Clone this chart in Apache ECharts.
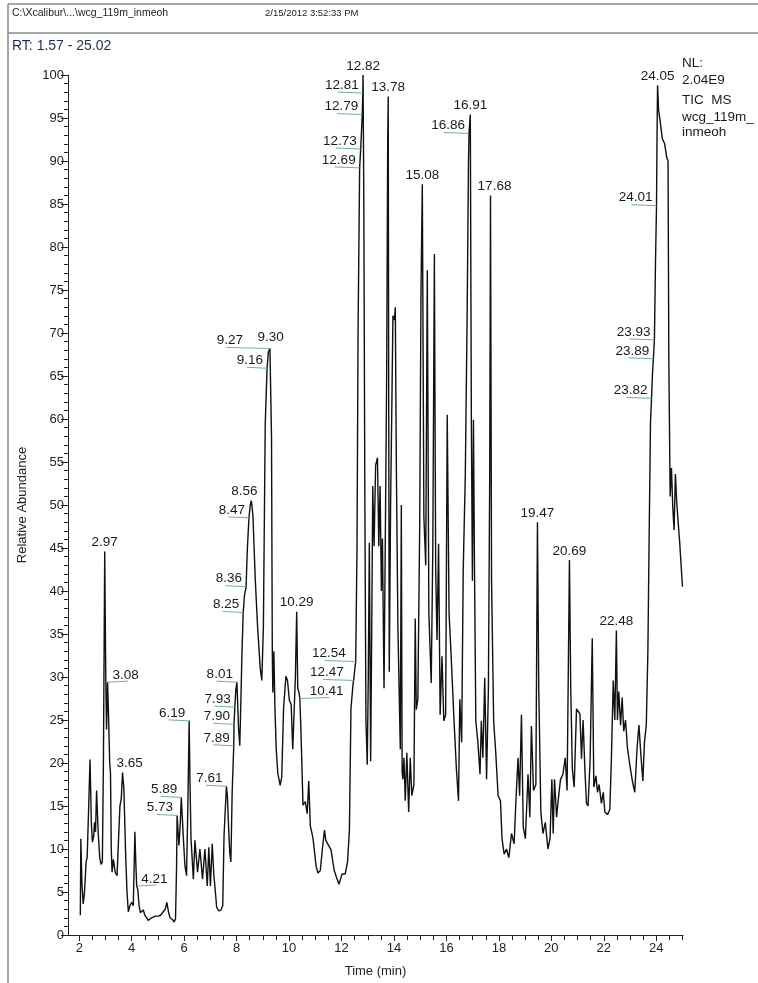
<!DOCTYPE html>
<html><head><meta charset="utf-8">
<script src="https://cdn.jsdelivr.net/npm/echarts@6/dist/echarts.min.js"></script>
<style>html,body{margin:0;padding:0;background:#fff}#c{width:758px;height:983px}</style>
</head><body><div id="c"></div>
<script>
// ---- data ----
const times = [2.04,2.06,2.10,2.15,2.20,2.26,2.30,2.35,2.41,2.46,2.50,2.55,2.58,2.62,2.66,2.72,2.78,2.83,2.88,2.92,2.97,3.01,3.04,3.08,3.12,3.16,3.19,3.22,3.25,3.30,3.37,3.44,3.49,3.55,3.60,3.65,3.70,3.77,3.82,3.87,3.93,4.00,4.06,4.12,4.16,4.19,4.23,4.28,4.33,4.38,4.44,4.50,4.57,4.63,4.70,4.76,4.82,4.90,5.01,5.10,5.20,5.28,5.34,5.40,5.46,5.55,5.62,5.67,5.71,5.73,5.80,5.85,5.89,5.97,6.03,6.09,6.14,6.19,6.22,6.26,6.35,6.41,6.51,6.60,6.70,6.79,6.88,6.94,7.00,7.07,7.13,7.17,7.24,7.32,7.40,7.47,7.52,7.61,7.65,7.70,7.74,7.78,7.83,7.89,7.90,7.93,7.97,8.01,8.04,8.07,8.12,8.16,8.20,8.25,8.30,8.36,8.41,8.47,8.52,8.56,8.62,8.71,8.80,8.90,8.96,9.02,9.09,9.16,9.21,9.27,9.30,9.33,9.36,9.38,9.42,9.46,9.51,9.57,9.66,9.72,9.79,9.88,9.94,10.01,10.08,10.14,10.19,10.24,10.29,10.33,10.38,10.41,10.45,10.53,10.62,10.69,10.75,10.81,10.91,11.03,11.10,11.19,11.27,11.35,11.40,11.46,11.60,11.72,11.82,11.90,11.96,12.02,12.14,12.23,12.30,12.36,12.44,12.47,12.51,12.54,12.59,12.63,12.69,12.73,12.79,12.81,12.82,12.85,12.89,12.93,12.98,13.02,13.06,13.11,13.15,13.19,13.24,13.30,13.37,13.42,13.47,13.52,13.56,13.62,13.68,13.72,13.76,13.78,13.80,13.82,13.87,13.92,13.96,14.02,14.05,14.09,14.15,14.20,14.24,14.28,14.31,14.34,14.38,14.43,14.49,14.56,14.62,14.68,14.76,14.81,14.85,14.91,14.98,15.03,15.08,15.14,15.21,15.27,15.33,15.42,15.48,15.54,15.59,15.64,15.70,15.76,15.83,15.90,15.97,16.03,16.10,16.18,16.29,16.38,16.46,16.51,16.58,16.64,16.72,16.79,16.84,16.86,16.91,16.95,16.99,17.03,17.07,17.12,17.20,17.28,17.33,17.39,17.46,17.53,17.60,17.65,17.68,17.72,17.80,17.88,17.97,18.06,18.12,18.20,18.29,18.38,18.48,18.58,18.65,18.73,18.79,18.86,18.93,19.01,19.11,19.18,19.24,19.32,19.41,19.47,19.52,19.60,19.68,19.77,19.87,19.95,20.02,20.07,20.12,20.20,20.28,20.35,20.44,20.53,20.60,20.69,20.74,20.80,20.87,20.96,21.09,21.15,21.21,21.28,21.34,21.40,21.48,21.56,21.62,21.70,21.76,21.82,21.91,21.98,22.04,22.14,22.23,22.29,22.36,22.42,22.48,22.52,22.57,22.64,22.70,22.76,22.83,22.90,22.99,23.09,23.18,23.27,23.34,23.41,23.49,23.55,23.62,23.68,23.73,23.78,23.82,23.86,23.89,23.93,23.97,24.01,24.03,24.05,24.09,24.15,24.23,24.32,24.40,24.45,24.48,24.53,24.58,24.63,24.68,24.73,24.78,24.84,24.89,24.94,25.00];
const abundance = [2.3,11.2,6,3.6,5,8.5,9,14,20.4,13,10.8,11.5,13.1,12,16.8,12,9,8.2,8.5,20,44.6,30,23.9,29.4,25,20,18.9,10,7.3,8.8,7.3,6.9,6.9,15,15.8,18.9,17,9.2,5,2.7,3.4,3.8,3.4,12,8,5.7,5.3,3.4,2.6,2.7,2.9,2.3,2.0,1.7,1.6,2.0,1.8,2.2,2.2,2.3,2.7,3.0,3.8,2.7,2.0,1.8,1.5,1.9,8,13.9,10.4,13,16,11.2,8,6.9,15,24.9,18,11.2,6.5,11,7.3,10,6.5,10,5.7,10.2,5.7,10.6,7,5.7,3.2,2.8,2.9,3.4,11.6,17.3,16,12,9.5,8.5,16.6,22,24.5,26.5,28.5,29.4,27,24.2,22,27,32.4,37.5,39.5,40.5,45,48.5,50,50.5,48.9,41.4,35.8,31,29.6,35.8,59.3,65.9,67.8,68.2,68.4,58,33,28.2,33,26.4,21.6,18.8,17.4,18.4,26.4,30.1,29.6,27.3,26.8,21.6,21.6,30,37.6,28.7,28.2,27.5,24,15.1,15.5,14.1,17.9,12.7,11.3,8,7.2,7.5,10,12.2,11,10.8,9.9,7.5,6.6,5.9,6.5,7.1,7.1,8.5,12.2,26.4,29.2,29.8,31,31.8,45,70,89.2,91.4,95.4,97.9,100,85,50,25,19.8,30,45.6,20.2,35,52.2,45.2,54.6,55.5,45.2,52.2,40,46.1,28.7,49.9,65,92,97.5,60,30.6,49.9,62,72,71.5,73,54.6,35.8,28,21.6,50,19,18.1,20.6,15.6,21.2,14.3,20.6,16.2,17.5,36.8,26.2,27.4,47.4,75,87.3,48.6,43,77.3,37.4,29.3,44.9,79.2,42.4,34.3,45.5,25.6,32.4,24.9,25.6,60.5,37.4,32.4,24.9,19.3,15.6,27.4,22.4,42.4,53.6,72.3,89.8,93.2,95.4,59.9,41.2,59.9,42.4,24.9,22.4,18.7,24.9,20.6,29.9,18.1,28.7,53.6,86,41.2,24.9,21.2,16.2,15.6,11.2,9.4,10,9,11.8,10.6,15.6,20.6,16.2,25.6,12.5,11.2,18.7,13.7,24.3,16.8,17.5,48,28.7,14.3,11.8,13.1,10,11.2,18.1,11.8,18.1,13.7,16.2,18.1,18.7,20.6,16.8,43.6,28.7,19.3,17.2,26.3,25.7,20.5,25,19.2,15.3,15,20.5,34.5,17.2,18.5,16.6,17.5,15.3,16.6,14.3,14,14.6,20.5,29.6,25,35.4,25,28.3,24.4,27.6,23.7,25,21.8,19.8,17.9,16.6,21.8,24.4,21.1,17.9,22.4,24.4,32.8,46.5,59.5,62.4,65.5,67,69.2,78,84.8,93,98.8,95.9,94.6,92.6,92,90.4,90,66.6,51,54.3,49.7,47.1,53.6,50.4,47.8,45.8,45.8,40.5];

const peakTimes  = [2.97,3.08,3.65,4.21,5.73,5.89,6.19,7.61,7.89,7.90,7.93,8.01,8.25,8.36,8.47,8.56,9.16,9.27,9.30,10.29,10.41,12.47,12.54,12.69,12.73,12.79,12.81,12.82,13.78,15.08,16.86,16.91,17.68,19.47,20.69,22.48,23.82,23.89,23.93,24.01,24.05];
const peakValues = [44.6,29.4,18.9,5.7,13.9,16,24.9,17.3,22,24.5,26.5,29.4,37.5,40.5,48.5,50.5,65.9,68.2,68.4,37.6,27.5,29.6,31.8,89.2,91.4,95.4,97.9,100,97.5,87.3,93.2,95.4,86,48,43.6,35.4,62.4,67,69.2,84.8,98.8];

const xMajorTicks = [2,4,6,8,10,12,14,16,18,20,22,24];
const xMinorTicks = [2.5,3,3.5,4.5,5,5.5,6.5,7,7.5,8.5,9,9.5,10.5,11,11.5,12.5,13,13.5,14.5,15,15.5,16.5,17,17.5,18.5,19,19.5,20.5,21,21.5,22.5,23,23.5,24.5,25];
const rtRange = [1.57, 25.02];

// ---- label layout (placement only) ----
const topLabels = {'2.97':0,'3.65':7,'8.56':-7,'9.30':0,'10.29':0,'12.82':0,'13.78':0,'15.08':0,'16.91':0,'17.68':4,'19.47':0,'20.69':0,'22.48':0,'24.05':0};
const rightLabels = {'3.08':5,'4.21':4,'10.41':10};
const leftGap = {'9.27':27,'12.47':10,'12.54':10};

const FONT = 'Arial, "Liberation Sans", sans-serif';
const GREEN = '#6ab58c';
function textWidth(s){ let w=0; for (const ch of s) w += (ch==='.'?3.9:7.8); return w; }

const chart = echarts.init(document.getElementById('c'), null, {renderer:'canvas'});
const lineData = times.map((t,i)=>[t, abundance[i]]);
const peakData = peakTimes.map((t,i)=>[t, peakValues[i]]);

chart.setOption({
  animation:false,
  backgroundColor:'#fff',
  grid:{left:68, right:75, top:75, bottom:47, containLabel:false},
  xAxis:[{
    type:'value', min:rtRange[0], max:rtRange[1],
    name:'Time (min)', nameLocation:'middle', nameGap:30,
    nameTextStyle:{fontFamily:FONT, fontSize:13, color:'#222'},
    axisLine:{show:true, onZero:false, lineStyle:{color:'#222', width:1}},
    axisTick:{show:true, length:6, customValues:xMajorTicks, lineStyle:{color:'#222'}},
    axisLabel:{show:true, customValues:xMajorTicks, fontFamily:FONT, fontSize:13, color:'#222', margin:7},
    splitLine:{show:false}
  },{
    type:'value', min:rtRange[0], max:rtRange[1], position:'bottom',
    axisLine:{show:false},
    axisTick:{show:true, length:5, customValues:xMinorTicks, lineStyle:{color:'#222'}},
    axisLabel:{show:false},
    splitLine:{show:false}
  }],
  yAxis:{
    type:'value', min:0, max:100, interval:5,
    name:'Relative Abundance', nameLocation:'middle', nameRotate:90, nameGap:39,
    nameTextStyle:{fontFamily:FONT, fontSize:13, color:'#222'},
    axisLine:{show:true, lineStyle:{color:'#222', width:1}},
    axisTick:{show:true, length:7, lineStyle:{color:'#222'}},
    minorTick:{show:true, splitNumber:5, length:4, lineStyle:{color:'#222'}},
    axisLabel:{fontFamily:FONT, fontSize:13, color:'#222', margin:4},
    splitLine:{show:false}, minorSplitLine:{show:false}
  },
  series:[{
    type:'line', data:lineData, xAxisIndex:0, showSymbol:false, symbol:'none',
    lineStyle:{color:'#111', width:1.4}, clip:false, z:2
  },{
    type:'custom', data:peakData, xAxisIndex:0, clip:false, z:3,
    encode:{x:0, y:1},
    renderItem:function(params, api){
      const t = api.value(0), v = api.value(1);
      const p = api.coord([t, v]);
      const s = t.toFixed(2);
      const w = textWidth(s);
      const children = [];
      const style = {font:'13.5px '+FONT, fill:'#1a1a1a'};
      if (s in topLabels) {
        children.push({type:'text', style:Object.assign({text:s, x:p[0]+topLabels[s], y:p[1]-2, align:'center', verticalAlign:'bottom'}, style)});
      } else if (s in rightLabels) {
        const g = rightLabels[s];
        children.push({type:'line', shape:{x1:p[0], y1:p[1], x2:p[0]+g+w*0.55, y2:p[1]-1}, style:{stroke:GREEN, lineWidth:1}});
        children.push({type:'text', style:Object.assign({text:s, x:p[0]+g, y:p[1]-7, align:'left', verticalAlign:'middle'}, style)});
      } else {
        const g = (s in leftGap) ? leftGap[s] : 4;
        children.push({type:'line', shape:{x1:p[0], y1:p[1], x2:p[0]-g-w*0.6, y2:p[1]-1}, style:{stroke:GREEN, lineWidth:1}});
        children.push({type:'text', style:Object.assign({text:s, x:p[0]-g, y:p[1]-8, align:'right', verticalAlign:'middle'}, style)});
      }
      return {type:'group', children:children};
    }
  }],
  graphic:[
    {type:'line', shape:{x1:8, y1:4, x2:758, y2:4}, style:{stroke:'#8a8a8a', lineWidth:1.5}},
    {type:'line', shape:{x1:8, y1:33, x2:758, y2:33}, style:{stroke:'#8a8a8a', lineWidth:1.5}},
    {type:'line', shape:{x1:8, y1:4, x2:8, y2:983}, style:{stroke:'#8a8a8a', lineWidth:1.5}},
    {type:'text', style:{text:'C:\\Xcalibur\\...\\wcg_119m_inmeoh', x:12, y:13, verticalAlign:'middle', font:'10.5px '+FONT, fill:'#222'}},
    {type:'text', style:{text:'2/15/2012 3:52:33 PM', x:265, y:13, verticalAlign:'middle', font:'9.5px '+FONT, fill:'#222'}},
    {type:'text', style:{text:'RT: 1.57 - 25.02', x:12, y:46, verticalAlign:'middle', font:'14px '+FONT, fill:'#1f2b5c'}},
    {type:'text', style:{text:'NL:', x:682, y:63, verticalAlign:'middle', font:'13.5px '+FONT, fill:'#1a1a1a'}},
    {type:'text', style:{text:'2.04E9', x:682, y:80, verticalAlign:'middle', font:'13.5px '+FONT, fill:'#1a1a1a'}},
    {type:'text', style:{text:'TIC  MS', x:682, y:100, verticalAlign:'middle', font:'13.5px '+FONT, fill:'#1a1a1a'}},
    {type:'text', style:{text:'wcg_119m_', x:682, y:117, verticalAlign:'middle', font:'13.5px '+FONT, fill:'#1a1a1a'}},
    {type:'text', style:{text:'inmeoh', x:682, y:132, verticalAlign:'middle', font:'13.5px '+FONT, fill:'#1a1a1a'}}
  ]
});
</script></body></html>
